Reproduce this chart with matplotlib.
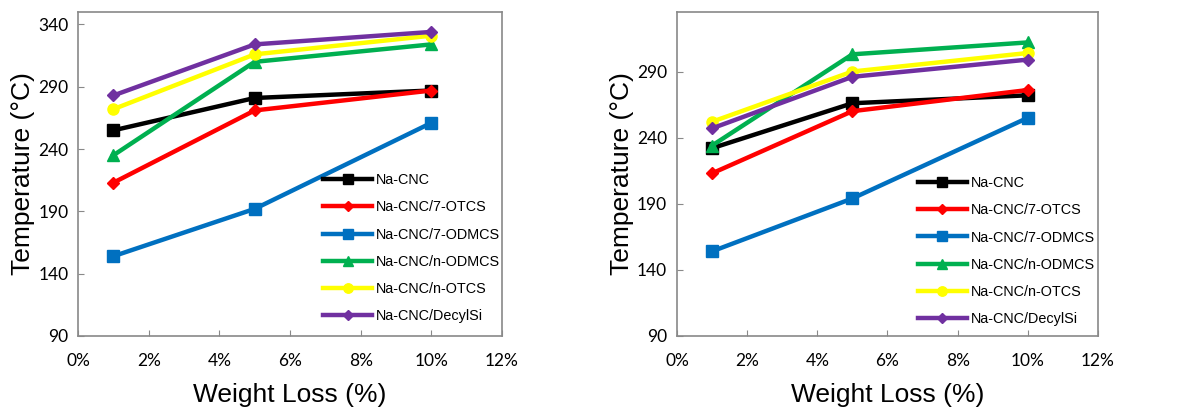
import matplotlib.pyplot as plt

# weight loss levels (%)
weight_loss = [1, 5, 10]

labels = ["Na-CNC", "Na-CNC/7-OTCS", "Na-CNC/7-ODMCS",
          "Na-CNC/n-ODMCS", "Na-CNC/n-OTCS", "Na-CNC/DecylSi"]

# left panel temperatures (°C)
left_na_cnc = [255, 281, 287]
left_7_otcs = [213, 271, 287]
left_7_odmcs = [154, 192, 261]
left_n_odmcs = [235, 310, 324]
left_n_otcs = [272, 316, 331]
left_decylsi = [283, 324, 334]

# right panel temperatures (°C)
right_na_cnc = [232, 266, 272]
right_7_otcs = [213, 260, 276]
right_7_odmcs = [154, 194, 255]
right_n_odmcs = [234, 303, 312]
right_n_otcs = [252, 290, 304]
right_decylsi = [247, 286, 299]

colors = ["#000000", "#FF0000", "#0070C0", "#00B050", "#FFFF00", "#7030A0"]
markers = ["s", "D", "s", "^", "o", "D"]
msizes = [8, 6.5, 8, 8, 8, 6.5]

fig = plt.figure(figsize=(11.8, 4.08), dpi=100)
ax1 = fig.add_axes([0.0661, 0.1765, 0.3593, 0.7941])
ax2 = fig.add_axes([0.5737, 0.1765, 0.3568, 0.7941])

panels = [
    (ax1, [left_na_cnc, left_7_otcs, left_7_odmcs, left_n_odmcs, left_n_otcs, left_decylsi],
     (90, 350), (0.578, 0.503)),
    (ax2, [right_na_cnc, right_7_otcs, right_7_odmcs, right_n_odmcs, right_n_otcs, right_decylsi],
     (90, 335), (0.572, 0.494)),
]

for ax, series, ylim, leg_pos in panels:
    for vals, lab, c, m, ms in zip(series, labels, colors, markers, msizes):
        ax.plot(weight_loss, vals, color=c, marker=m, markersize=ms,
                markeredgecolor=c, linewidth=3.2, label=lab)
    ax.set_xlim(0, 12)
    ax.set_ylim(*ylim)
    ax.set_xticks(range(0, 13, 2))
    ax.set_xticklabels([f"{v}%" for v in range(0, 13, 2)])
    ax.set_yticks(range(90, int(ylim[1]) + 1, 50))
    ax.tick_params(direction="in", length=4, color="#898989", labelsize=12.5)
    ax.tick_params(axis="x", pad=12)
    ax.tick_params(axis="y", pad=7)
    for lbl in ax.get_xticklabels() + ax.get_yticklabels():
        lbl.set_family("Lato")
    for sp in ax.spines.values():
        sp.set_color("#898989")
        sp.set_linewidth(1.2)
    ax.set_xlabel("Weight Loss (%)", fontsize=19, family="Liberation Sans", labelpad=10)
    ax.set_ylabel("Temperature (°C)", fontsize=19, family="Liberation Sans", labelpad=2)
    ax.legend(loc="upper left", bbox_to_anchor=leg_pos, frameon=False,
              prop={"family": "Liberation Sans", "size": 10.4},
              borderpad=0, borderaxespad=0, handlelength=3.4,
              handletextpad=0.25, labelspacing=0.92, markerscale=0.85)

fig.savefig("out.png", dpi=100)
